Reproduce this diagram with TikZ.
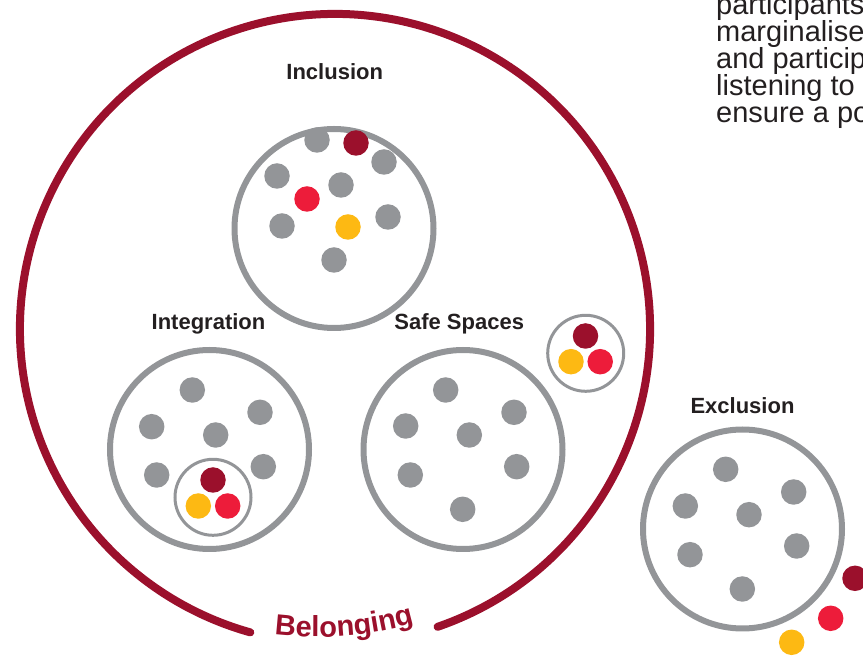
\documentclass[tikz,border=0pt]{standalone}
\usepackage{fontspec}
\setmainfont{Liberation Sans}
\usetikzlibrary{decorations.text}

\definecolor{ringred}{HTML}{9B102C}
\definecolor{dotred}{HTML}{ED1C3A}
\definecolor{dotyellow}{HTML}{FDB913}
\definecolor{ringgray}{HTML}{939598}
\definecolor{inkdark}{HTML}{231F20}

\newcommand\belongfont{\fontsize{29}{29}\selectfont\bfseries\color{ringred}}

\begin{document}
\begin{tikzpicture}[x=1pt,y=1pt,
  group/.style={circle, draw=ringgray, line width=6pt, minimum size=199pt, inner sep=0pt},
  pod/.style={circle, draw=ringgray, line width=3pt, minimum size=76pt, inner sep=0pt},
  dot/.style={circle, minimum size=25.5pt, inner sep=0pt},
  gdot/.style={dot, fill=ringgray},
  kdot/.style={dot, fill=ringred},
  rdot/.style={dot, fill=dotred},
  ydot/.style={dot, fill=dotyellow},
  lbl/.style={font=\fontsize{22}{22}\selectfont\bfseries, text=inkdark, anchor=base, inner sep=0pt},
  para/.style={font=\fontsize{29}{29}\selectfont, text=inkdark, anchor=base west, inner sep=0pt},
  belongring/.style={draw=ringred, line width=8pt, line cap=round}]

\useasboundingbox (0,0) rectangle (863,656);
\clip (0,0) rectangle (863,656);

% paragraph running off the right edge
\node[para] (p1) at (716,641) {participants};
\node[para] (p2) at (716,614) {marginalised};
\node[para] (p3) at (716,587) {and participation};
\node[para] (p4) at (716,560) {listening to co};
\node[para] (p5) at (716,533) {ensure a pos};

% the belonging ring, open at the bottom
\coordinate (ringc) at (335,327);
\draw[belongring] ([shift={(-71:315pt)}]ringc) arc[start angle=-71, end angle=254.4, radius=315pt];
\path[decorate, decoration={text along path, text align=center,
      text={|\belongfont|Belonging}}]
  (317,379) ++(-106:360pt) arc[start angle=-106, end angle=-65, radius=360pt];

% Inclusion
\node[lbl] (tInc) at (334.7,576.7) {Inclusion};
\node[group] (inc) at (334,427.5) {};
\node[gdot] (inc1) at (317,516) {};
\node[kdot] (inc2) at (356,513) {};
\node[gdot] (inc3) at (384,494) {};
\node[gdot] (inc4) at (277,480) {};
\node[gdot] (inc5) at (341,471) {};
\node[rdot] (inc6) at (307,457) {};
\node[gdot] (inc7) at (282,430) {};
\node[ydot] (inc8) at (348,429) {};
\node[gdot] (inc9) at (388,439) {};
\node[gdot] (inc10) at (334,396) {};

% Integration
\node[lbl] (tInt) at (208.5,326.7) {Integration};
\node[group] (int) at (209.5,206.5) {};
\node[gdot] (int1) at (192.3,266) {};
\node[gdot] (int2) at (151.7,229.3) {};
\node[gdot] (int3) at (260,243.7) {};
\node[gdot] (int4) at (215.7,221) {};
\node[gdot] (int5) at (156.7,181) {};
\node[gdot] (int6) at (263.3,189.3) {};
\node[pod] (intpod) at (213,158.7) {};
\node[kdot] (intk) at (213,176) {};
\node[ydot] (inty) at (198.3,150) {};
\node[rdot] (intr) at (227.7,150) {};

% Safe Spaces
\node[lbl] (tSafe) at (459.2,326) {Safe Spaces};
\node[group] (safe) at (463,206.5) {};
\node[gdot] (safe1) at (445.7,266) {};
\node[gdot] (safe2) at (405.7,230) {};
\node[gdot] (safe3) at (514,243.7) {};
\node[gdot] (safe4) at (469.3,221) {};
\node[gdot] (safe5) at (410.3,181) {};
\node[gdot] (safe6) at (516.7,189.3) {};
\node[gdot] (safe7) at (462.7,146.7) {};
\node[pod] (safepod) at (585.7,302.7) {};
\node[kdot] (safek) at (585.5,320) {};
\node[ydot] (safey) at (571,294.3) {};
\node[rdot] (safer) at (600.2,294.3) {};

% Exclusion
\node[lbl] (tExc) at (742.5,242.7) {Exclusion};
\node[group] (exc) at (742.5,127) {};
\node[gdot] (exc1) at (725.7,186.7) {};
\node[gdot] (exc2) at (685.3,150) {};
\node[gdot] (exc3) at (793.7,164) {};
\node[gdot] (exc4) at (749,141.3) {};
\node[gdot] (exc5) at (690,101.3) {};
\node[gdot] (exc6) at (796.7,110) {};
\node[gdot] (exc7) at (742.3,67) {};
\node[kdot] (exck) at (855,77.7) {};
\node[rdot] (excr) at (830.7,37.7) {};
\node[ydot] (excy) at (791.7,13.7) {};

\end{tikzpicture}
\end{document}
